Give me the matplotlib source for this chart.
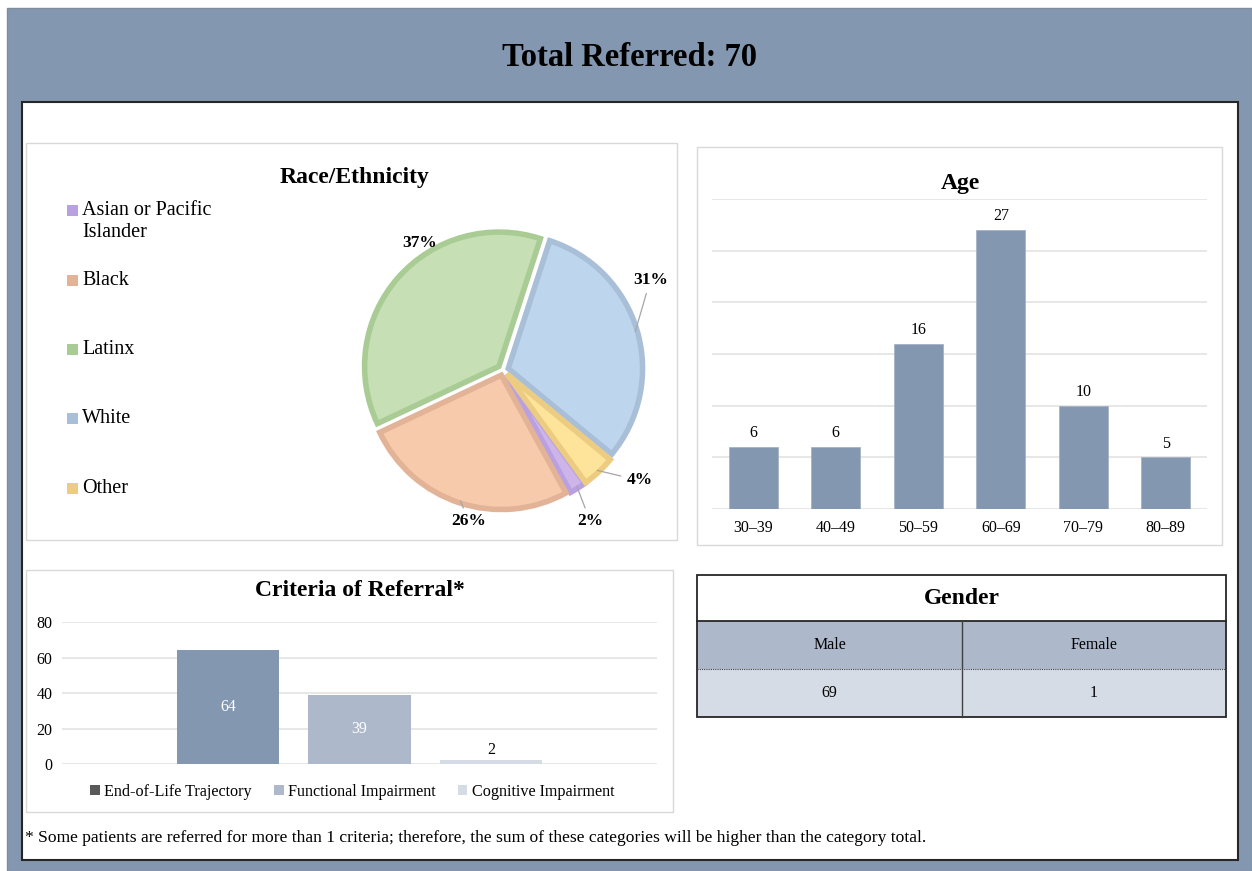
import numpy as np
import matplotlib
matplotlib.use('Agg')
import matplotlib.pyplot as plt
from matplotlib.patches import Rectangle, Patch

plt.rcParams['font.family'] = 'Liberation Serif'

# data
total_referred = 70

race_labels = ['Asian or Pacific\nIslander', 'Black', 'Latinx', 'White', 'Other']
race_pct = [2, 26, 37, 31, 4]
race_fill = ['#CDB5EA', '#F7CAAC', '#C6DFB5', '#BDD6EE', '#FEE49A']
race_edge = ['#B9A0E0', '#E2B397', '#A9CC95', '#A9BFD8', '#EBCC80']

age_groups = ['30–39', '40–49', '50–59', '60–69', '70–79', '80–89']
age_counts = [6, 6, 16, 27, 10, 5]

criteria = ['End-of-Life Trajectory', 'Functional Impairment', 'Cognitive Impairment']
criteria_counts = [64, 39, 2]
criteria_colors = ['#8497B0', '#ADB9CA', '#D6DCE5']
criteria_legend_colors = ['#595959', '#ADB9CA', '#D6DCE5']

gender_labels = ['Male', 'Female']
gender_counts = [69, 1]

W, H = 1252, 871
fig = plt.figure(figsize=(W / 100, H / 100), dpi=100, facecolor='white')


def px_axes(x0, y0, x1, y1):
    return fig.add_axes([x0 / W, 1 - y1 / H, (x1 - x0) / W, (y1 - y0) / H])


# background in pixel coordinates
bg = fig.add_axes([0, 0, 1, 1])
bg.set_xlim(0, W)
bg.set_ylim(H, 0)
bg.axis('off')
bg.add_patch(Rectangle((7, 8), W - 7, H - 8, facecolor='#8497B0', edgecolor='#7F8C9C', lw=1))
bg.add_patch(Rectangle((22, 102), 1238 - 22, 860 - 102, facecolor='white', edgecolor='#262626', lw=1.5))
bg.text(630, 57, f'Total Referred: {total_referred}', ha='center', va='center',
        fontsize=23.5, fontweight='bold', color='black')

# panel frames
for x0, y0, x1, y1 in [(26, 143, 677, 540), (697, 147, 1222, 545), (26, 570, 673, 812)]:
    bg.add_patch(Rectangle((x0, y0), x1 - x0, y1 - y0, facecolor='white', edgecolor='#D9D9D9', lw=1))

title_fs = 17

# race / ethnicity
bg.text(355, 178, 'Race/Ethnicity', ha='center', va='center', fontsize=title_fs, fontweight='bold')
legend_y = [221, 280, 349, 418, 488]
for lab, col, y in zip(race_labels, race_edge, legend_y):
    parts = lab.split('\n')
    top = y if len(parts) == 1 else y - 11
    bg.add_patch(Rectangle((67, top - 5), 11, 11, facecolor=col, edgecolor='none'))
    for k, p in enumerate(parts):
        bg.text(82, top + 22 * k, p, ha='left', va='center', fontsize=14.5)

ax_pie = px_axes(353, 220, 653, 520)
ax_pie.set_facecolor('none')
wedges, _ = ax_pie.pie(race_pct, colors=race_fill, startangle=-54, counterclock=False,
                       explode=[0.04] * len(race_pct), radius=0.985,
                       wedgeprops=dict(linewidth=4, edgecolor='none'))
for w, ec in zip(wedges, race_edge):
    w.set_edgecolor(ec)
    w.set_joinstyle('miter')
ax_pie.set_xlim(-1.1, 1.1)
ax_pie.set_ylim(-1.1, 1.1)
ax_pie.set_aspect('equal')
ax_pie.axis('off')

label_pos = [(0.64, -1.11), (-0.25, -1.11), (-0.61, 0.93), (1.08, 0.66), (1.0, -0.81)]
leader = [True, True, False, True, True]
for w, pct, (tx, ty), ld in zip(wedges, race_pct, label_pos, leader):
    mid = np.deg2rad((w.theta1 + w.theta2) / 2)
    cx, cy = w.center
    ex, ey = cx + 0.97 * np.cos(mid), cy + 0.97 * np.sin(mid)
    if ld:
        ax_pie.annotate(f'{pct}%', xy=(ex, ey), xytext=(tx, ty), ha='center', va='center',
                        fontsize=12.5, fontweight='bold',
                        arrowprops=dict(arrowstyle='-', color='#A6A6A6', lw=0.9,
                                        shrinkA=2, shrinkB=0),
                        annotation_clip=False)
    else:
        ax_pie.text(tx, ty, f'{pct}%', ha='center', va='center', fontsize=12.5, fontweight='bold')

# age
bg.text(960, 183, 'Age', ha='center', va='center', fontsize=title_fs, fontweight='bold')
ax_age = px_axes(712, 199, 1207, 509)
ax_age.set_facecolor('none')
x = np.arange(len(age_groups))
bars = ax_age.bar(x, age_counts, width=0.59, color='#8497B0', edgecolor='#A5B3C6', lw=0.6, zorder=3)
ax_age.bar_label(bars, padding=4, fontsize=11.5)
ax_age.set_xlim(-0.5, len(age_groups) - 0.5)
ax_age.set_ylim(0, 30)
ax_age.set_yticks(np.arange(0, 31, 5))
ax_age.set_yticklabels([])
ax_age.grid(axis='y', color='#E3E3E3', lw=1.2, zorder=0)
ax_age.set_xticks(x)
ax_age.set_xticklabels(age_groups, fontsize=11.5)
ax_age.tick_params(length=0, pad=8)
for s in ax_age.spines.values():
    s.set_visible(False)

# criteria of referral
bg.text(360, 590, 'Criteria of Referral*', ha='center', va='center', fontsize=title_fs, fontweight='bold')
ax_cr = px_axes(62, 622, 657, 764)
ax_cr.set_facecolor('none')
offs = (np.arange(len(criteria)) - 1) * 0.221
cbars = []
for o, v, c, lab in zip(offs, criteria_counts, criteria_colors, criteria):
    b = ax_cr.bar(o, v, width=0.173, color=c, label=lab, zorder=3)
    cbars.append(b)
ax_cr.bar_label(cbars[0], label_type='center', color='white', fontsize=11.5)
ax_cr.bar_label(cbars[1], label_type='center', color='white', fontsize=11.5)
ax_cr.bar_label(cbars[2], padding=2, color='black', fontsize=11.5)
ax_cr.set_xlim(-0.5, 0.5)
ax_cr.set_ylim(0, 80)
ax_cr.set_yticks(np.arange(0, 81, 20))
ax_cr.set_xticks([])
ax_cr.tick_params(axis='y', length=0, pad=7, labelsize=11.5)
ax_cr.grid(axis='y', color='#E3E3E3', lw=1.2, zorder=0)
for s in ax_cr.spines.values():
    s.set_visible(False)
handles = [Patch(facecolor=c, edgecolor='none', label=l) for c, l in zip(criteria_legend_colors, criteria)]
ax_cr.legend(handles=handles, loc='center', bbox_to_anchor=(0.488, -(792 - 764) / 142), ncol=3,
             frameon=False, fontsize=11.6, handlelength=0.6, handleheight=0.6,
             handletextpad=0.3, columnspacing=1.35)

# gender table
tx0, tx1, tmid = 697, 1226, 962
rows = [575, 621, 669, 717]
bg.add_patch(Rectangle((tx0, rows[1]), tx1 - tx0, rows[2] - rows[1], facecolor='#ADB9CA', edgecolor='none'))
bg.add_patch(Rectangle((tx0, rows[2]), tx1 - tx0, rows[3] - rows[2], facecolor='#D6DCE5', edgecolor='none'))
bg.add_patch(Rectangle((tx0, rows[0]), tx1 - tx0, rows[3] - rows[0], facecolor='none', edgecolor='#262626', lw=1.3))
bg.plot([tx0, tx1], [rows[1], rows[1]], color='#262626', lw=1.3)
bg.plot([tx0, tx1], [rows[2], rows[2]], color='#404040', lw=0.8, ls=(0, (1, 1)))
bg.plot([tmid, tmid], [rows[1], rows[3]], color='#404040', lw=1)
bg.text((tx0 + tx1) / 2, (rows[0] + rows[1]) / 2, 'Gender', ha='center', va='center',
        fontsize=title_fs, fontweight='bold')
for i, (lab, cnt) in enumerate(zip(gender_labels, gender_counts)):
    cx = (tx0 + tmid) / 2 if i == 0 else (tmid + tx1) / 2
    bg.text(cx, (rows[1] + rows[2]) / 2, lab, ha='center', va='center', fontsize=11.5)
    bg.text(cx, (rows[2] + rows[3]) / 2, str(cnt), ha='center', va='center', fontsize=11.5)

# footnote
bg.text(25, 838, '* Some patients are referred for more than 1 criteria; therefore, the sum of these '
        'categories will be higher than the category total.', ha='left', va='center', fontsize=12.6)

fig.savefig('out.png', dpi=100)
